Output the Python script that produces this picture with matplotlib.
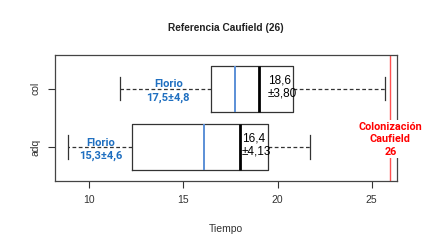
import matplotlib
matplotlib.use("Agg")
import matplotlib.pyplot as plt

plt.rcParams["font.family"] = ["Liberation Sans", "DejaVu Sans"]

# --- datos ---
grupos = ["col", "adq"]
posiciones = [2, 1]
bigote_inf = [11.63, 8.85]
q1 = [16.47, 12.29]
mediana = [19.0, 18.0]
q3 = [20.84, 19.51]
bigote_sup = [25.71, 21.72]
florio = [17.76, 16.08]
etiq_florio = ["Florio\n17,5±4,8", "Florio\n15,3±4,6"]
etiq_media = ["18,6\n±3,80", "16,4\n±4,13"]
x_florio_txt = [14.2, 10.6]
x_media_txt = [19.5, 18.1]
caufield = 26
xticks = [10, 15, 20, 25]

fig = plt.figure(figsize=(4.32, 2.49), dpi=100)
ax = fig.add_axes([0.127, 0.274, 0.792, 0.505])

stats = []
for i, g in enumerate(grupos):
    stats.append({"label": g, "whislo": bigote_inf[i], "q1": q1[i], "med": mediana[i],
                  "q3": q3[i], "whishi": bigote_sup[i], "fliers": []})

ax.bxp(stats, positions=posiciones, widths=0.8, vert=False, showfliers=False,
       capwidths=0.4,
       boxprops=dict(color="#333333", lw=0.9),
       whiskerprops=dict(color="#333333", lw=0.9, linestyle=(0, (3, 2))),
       capprops=dict(color="#333333", lw=0.9),
       medianprops=dict(color="black", lw=2))

# linea azul (referencia Florio)
for p, f in zip(posiciones, florio):
    ax.vlines(f, p - 0.4, p + 0.4, color="#5b8fd6", lw=1.4, zorder=3)

for p, t, x in zip(posiciones, etiq_florio, x_florio_txt):
    ax.text(x, p - 0.04, t, color="#1f6fc0", fontsize=8, fontweight="bold",
            family=["Roboto", "DejaVu Sans"], ha="center", va="center",
            linespacing=1.4)

for p, t, x in zip(posiciones, etiq_media, x_media_txt):
    ax.text(x, p + 0.03, t, color="black", fontsize=8.5, ha="left", va="center",
            linespacing=1.15)

ax.axvline(caufield, color="#ff5050", lw=1, zorder=1)
ax.text(caufield, 1.135, "Colonización\nCaufield\n" + str(caufield), color="#ff0000",
        fontsize=7.8, fontweight="bold", family=["Roboto", "DejaVu Sans"],
        ha="center", va="center", linespacing=1.3, zorder=6, clip_on=False,
        bbox=dict(facecolor="white", edgecolor="none", pad=1))

ax.set_xlim(8.17, 26.35)
ax.set_ylim(0.42, 2.58)
ax.set_xticks(xticks)
ax.set_yticks(posiciones)
ax.set_yticklabels(grupos, rotation=90, va="center")
ax.tick_params(labelsize=7.5, colors="#333333", length=5, width=0.8, pad=5)
for s in ax.spines.values():
    s.set_color("#444444")
    s.set_linewidth(0.9)
ax.set_xlabel("Tiempo", fontsize=7.5, color="#333333", labelpad=14)
ax.set_title("Referencia Caufield (26)", fontsize=7.3, fontweight="bold",
             color="#222222", pad=17)

fig.savefig("out.png", dpi=100)
